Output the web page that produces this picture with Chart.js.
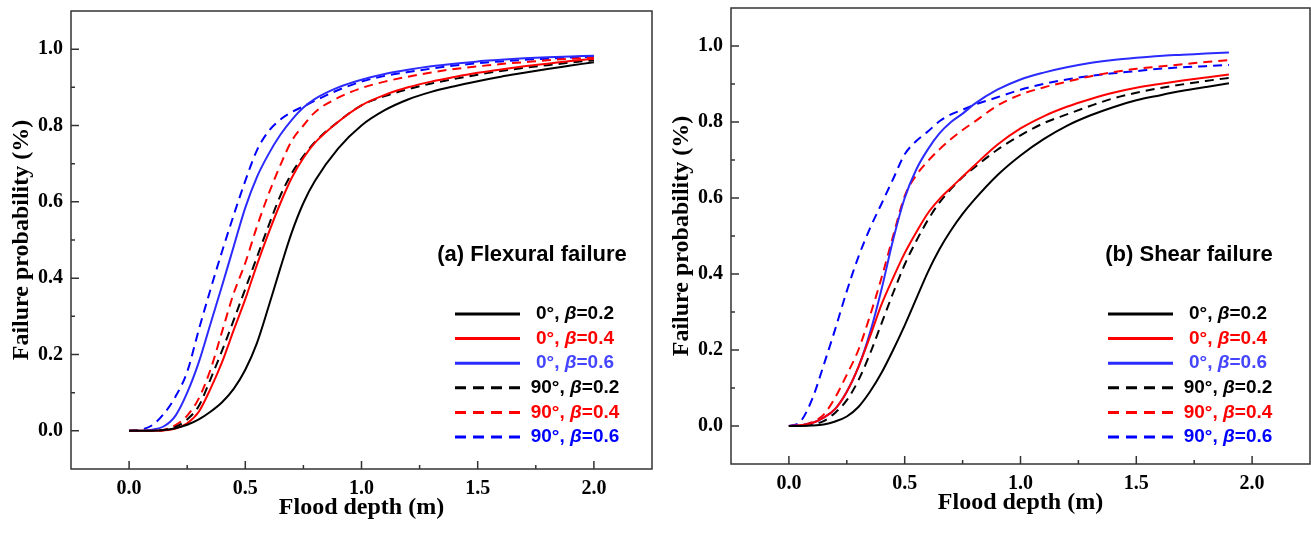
<!DOCTYPE html>
<html>
<head>
<meta charset="utf-8">
<script src="https://cdn.jsdelivr.net/npm/chart.js@4.4.1/dist/chart.umd.min.js"></script>
<style>
  html, body { margin: 0; padding: 0; background: #fff; }
  #wrap { position: relative; width: 1311px; height: 534px; }
  .panel { position: absolute; top: 0; }
</style>
</head>
<body>
<div id="wrap">
  <canvas id="chartA" class="panel" style="left:0" width="660" height="534"></canvas>
  <canvas id="chartB" class="panel" style="left:660px" width="651" height="534"></canvas>
</div>
<script>
// flood depth (m) sampled for each panel
const depthA = [0,0.05,0.1,0.15,0.2,0.25,0.3,0.35,0.4,0.45,0.5,0.55,0.6,0.65,0.7,0.75,0.8,0.9,1.0,1.1,1.2,1.3,1.4,1.5,1.6,1.7,1.8,1.9,2.0];
const depthB = [0,0.05,0.1,0.15,0.2,0.25,0.3,0.35,0.4,0.45,0.5,0.55,0.6,0.65,0.7,0.75,0.8,0.9,1.0,1.1,1.2,1.3,1.4,1.5,1.6,1.7,1.8,1.9];

// (a) flexural failure probability
const flex0b02  = [0,0,0,0.002,0.007,0.016,0.03,0.05,0.075,0.11,0.16,0.23,0.325,0.425,0.52,0.597,0.655,0.74,0.80,0.84,0.868,0.888,0.903,0.916,0.928,0.938,0.948,0.957,0.966];
const flex0b04  = [0,0,0,0.001,0.006,0.02,0.05,0.11,0.18,0.264,0.345,0.435,0.518,0.595,0.663,0.715,0.755,0.81,0.853,0.88,0.9,0.915,0.927,0.938,0.947,0.955,0.962,0.969,0.975];
const flex0b06  = [0,0,0.003,0.012,0.04,0.1,0.18,0.28,0.38,0.483,0.585,0.665,0.725,0.775,0.815,0.847,0.87,0.9,0.92,0.935,0.946,0.955,0.962,0.968,0.972,0.976,0.979,0.981,0.983];
const flex90b02 = [0,0,0,0.002,0.01,0.03,0.065,0.135,0.21,0.29,0.372,0.455,0.537,0.615,0.675,0.72,0.757,0.81,0.853,0.877,0.895,0.91,0.922,0.933,0.943,0.951,0.958,0.965,0.971];
const flex90b04 = [0,0,0,0.003,0.015,0.04,0.085,0.16,0.26,0.36,0.44,0.535,0.62,0.695,0.76,0.8,0.835,0.873,0.898,0.915,0.928,0.939,0.948,0.955,0.961,0.966,0.971,0.975,0.978];
const flex90b06 = [0,0.003,0.015,0.045,0.09,0.155,0.265,0.37,0.47,0.565,0.655,0.735,0.785,0.815,0.835,0.85,0.865,0.893,0.915,0.93,0.94,0.949,0.957,0.963,0.968,0.972,0.975,0.978,0.98];

// (b) shear failure probability
const shear0b02  = [0,0,0.001,0.004,0.012,0.025,0.05,0.09,0.14,0.2,0.265,0.335,0.405,0.465,0.515,0.558,0.595,0.66,0.712,0.755,0.79,0.817,0.839,0.857,0.87,0.882,0.892,0.902];
const shear0b04  = [0,0.002,0.008,0.022,0.045,0.09,0.155,0.235,0.32,0.39,0.455,0.51,0.56,0.597,0.627,0.656,0.685,0.74,0.783,0.815,0.84,0.86,0.877,0.89,0.9,0.909,0.917,0.925];
const shear0b06  = [0,0.002,0.008,0.022,0.045,0.09,0.155,0.245,0.36,0.49,0.6,0.675,0.728,0.77,0.8,0.822,0.847,0.885,0.912,0.93,0.944,0.955,0.963,0.969,0.974,0.977,0.98,0.983];
const shear90b02 = [0,0,0.004,0.013,0.035,0.068,0.12,0.19,0.27,0.35,0.425,0.487,0.542,0.588,0.624,0.655,0.68,0.727,0.765,0.797,0.82,0.842,0.862,0.877,0.889,0.899,0.908,0.916];
const shear90b04 = [0,0.002,0.01,0.03,0.075,0.135,0.2,0.29,0.39,0.5,0.605,0.66,0.697,0.728,0.755,0.779,0.8,0.843,0.872,0.891,0.906,0.92,0.931,0.94,0.946,0.952,0.958,0.963];
const shear90b06 = [0,0.012,0.07,0.16,0.255,0.355,0.445,0.52,0.585,0.65,0.715,0.75,0.775,0.802,0.82,0.832,0.845,0.865,0.885,0.9,0.912,0.921,0.928,0.934,0.94,0.944,0.947,0.95];

// axes
const xTicks = [0, 0.5, 1.0, 1.5, 2.0];
const xMinor = [0.25, 0.75, 1.25, 1.75];
const yTicks = [0, 0.2, 0.4, 0.6, 0.8, 1.0];
const yMinor = [0.1, 0.3, 0.5, 0.7, 0.9];

// legend
const legendAngles = ['0°', '0°', '0°', '90°', '90°', '90°'];
const legendBetas  = ['0.2', '0.4', '0.6', '0.2', '0.4', '0.6'];
const lineColors   = ['#000000', '#ff0000', '#2b2bff', '#000000', '#ff0000', '#0000ff'];
const textColors   = ['#000000', '#ff0000', '#4545ff', '#000000', '#ff0000', '#0000ff'];
const dashed       = [false, false, false, true, true, true];

const serif = "'Liberation Serif', 'Times New Roman', serif";
const sans  = "'Liberation Sans', Arial, sans-serif";

function makeDatasets(xs, series) {
  return series.map((ys, i) => ({
    label: legendAngles[i] + ', β=' + legendBetas[i],
    data: xs.map((x, j) => ({ x: x, y: ys[j] })),
    borderColor: lineColors[i],
    borderWidth: 2,
    borderDash: dashed[i] ? [9, 6] : [],
    pointRadius: 0,
    cubicInterpolationMode: 'monotone',
    fill: false
  }));
}

// frame, inward ticks, panel label and legend
function decor(cfg) {
  return {
    id: 'decor',
    afterDatasetsDraw(chart) {
      const { ctx, chartArea: a, scales: { x, y } } = chart;
      ctx.save();
      ctx.setLineDash([]);
      ctx.strokeStyle = '#333';
      ctx.lineWidth = 1.5;
      ctx.strokeRect(a.left, a.top, a.right - a.left, a.bottom - a.top);

      ctx.beginPath();
      xTicks.forEach(v => { const p = x.getPixelForValue(v); ctx.moveTo(p, a.bottom); ctx.lineTo(p, a.bottom - 8); });
      xMinor.forEach(v => { const p = x.getPixelForValue(v); ctx.moveTo(p, a.bottom); ctx.lineTo(p, a.bottom - 4); });
      yTicks.forEach(v => { const p = y.getPixelForValue(v); ctx.moveTo(a.left, p); ctx.lineTo(a.left + 8, p); });
      yMinor.forEach(v => { const p = y.getPixelForValue(v); ctx.moveTo(a.left, p); ctx.lineTo(a.left + 4, p); });
      ctx.stroke();

      ctx.fillStyle = '#000';
      ctx.font = 'bold 22px ' + sans;
      ctx.textAlign = 'center';
      ctx.textBaseline = 'middle';
      ctx.fillText(cfg.title, cfg.titleX, cfg.titleY);

      ctx.textAlign = 'left';
      legendAngles.forEach((ang, i) => {
        const ly = cfg.legendY + i * 24.6;
        ctx.strokeStyle = lineColors[i];
        ctx.lineWidth = 3;
        ctx.setLineDash(dashed[i] ? [11, 7] : []);
        ctx.beginPath();
        ctx.moveTo(cfg.lineX0, ly);
        ctx.lineTo(cfg.lineX1, ly);
        ctx.stroke();

        const parts = [
          [ang + ', ', 'bold 19px ' + sans],
          ['β', 'italic bold 19px ' + sans],
          ['=' + legendBetas[i], 'bold 19px ' + sans]
        ];
        let w = 0;
        parts.forEach(p => { ctx.font = p[1]; w += ctx.measureText(p[0]).width; });
        let tx = cfg.textX - w / 2;
        ctx.fillStyle = textColors[i];
        parts.forEach(p => { ctx.font = p[1]; ctx.fillText(p[0], tx, ly); tx += ctx.measureText(p[0]).width; });
      });
      ctx.restore();
    }
  };
}

function makeChart(id, xs, series, cfg) {
  return new Chart(document.getElementById(id), {
    type: 'line',
    data: { datasets: makeDatasets(xs, series) },
    options: {
      responsive: false,
      animation: false,
      layout: { padding: { left: 0, top: cfg.padTop, right: cfg.padRight, bottom: 0 } },
      plugins: { legend: { display: false }, tooltip: { enabled: false } },
      scales: {
        x: {
          type: 'linear', min: -0.25, max: 2.25,
          afterBuildTicks: s => { s.ticks = xTicks.map(v => ({ value: v })); },
          afterFit: s => { s.height = cfg.xAxisH; s.paddingLeft = 0; s.paddingRight = 0; },
          grid: { display: false, drawTicks: false },
          border: { display: false },
          ticks: { padding: 8, color: '#000', autoSkip: false, maxRotation: 0,
                   font: { family: serif, weight: 'bold', size: 20 },
                   callback: v => v.toFixed(1) },
          title: { display: true, text: 'Flood depth (m)', color: '#000',
                   font: { family: serif, weight: 'bold', size: 24 },
                   padding: { top: 0, bottom: cfg.xTitlePad } }
        },
        y: {
          type: 'linear', min: -0.1, max: 1.1,
          afterBuildTicks: s => { s.ticks = yTicks.map(v => ({ value: v })); },
          afterFit: s => { s.width = 71; s.paddingTop = 0; s.paddingBottom = 0; },
          grid: { display: false, drawTicks: false },
          border: { display: false },
          ticks: { padding: 8, color: '#000', autoSkip: false,
                   font: { family: serif, weight: 'bold', size: 20 },
                   callback: v => v.toFixed(1) },
          title: { display: true, text: 'Failure probability (%)', color: '#000',
                   font: { family: serif, weight: 'bold', size: 24 },
                   padding: { top: 7, bottom: 0 } }
        }
      }
    },
    plugins: [decor(cfg)]
  });
}

makeChart('chartA', depthA,
  [flex0b02, flex0b04, flex0b06, flex90b02, flex90b04, flex90b06],
  { padTop: 11, padRight: 8, xAxisH: 65, xTitlePad: 12,
    title: '(a) Flexural failure', titleX: 532, titleY: 255,
    legendY: 314, lineX0: 455, lineX1: 520, textX: 575 });

makeChart('chartB', depthB,
  [shear0b02, shear0b04, shear0b06, shear90b02, shear90b04, shear90b06],
  { padTop: 8, padRight: 1, xAxisH: 70, xTitlePad: 17,
    title: '(b) Shear failure', titleX: 529, titleY: 255,
    legendY: 314, lineX0: 448, lineX1: 513, textX: 568 });
</script>
</body>
</html>
